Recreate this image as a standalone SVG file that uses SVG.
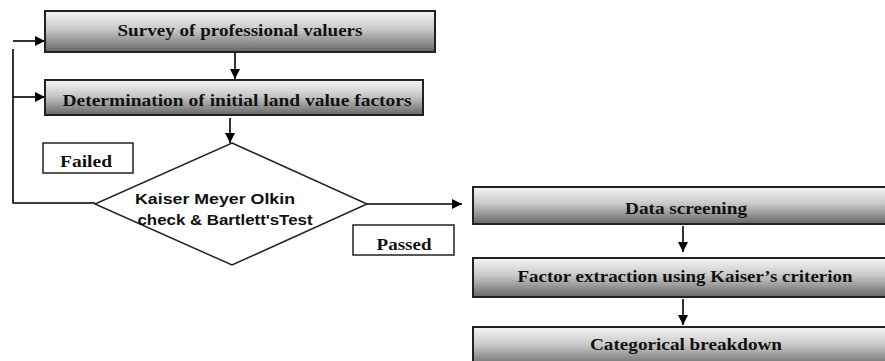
<svg xmlns="http://www.w3.org/2000/svg" width="885" height="361" viewBox="0 0 885 361">
<defs>
<linearGradient id="g" x1="0" y1="0" x2="0" y2="1">
<stop offset="0" stop-color="#f6f6f6"/>
<stop offset="0.45" stop-color="#c8c8c8"/>
<stop offset="1" stop-color="#666"/>
</linearGradient>
<marker id="ah" viewBox="0 0 10 10" refX="10" refY="5" markerWidth="10" markerHeight="10" markerUnits="userSpaceOnUse" orient="auto">
<path d="M0,0 L10,5 L0,10 z" fill="#000"/>
</marker>
</defs>
<style>
.box{fill:url(#g);stroke:#222;stroke-width:2}
.lbl{fill:#fff;stroke:#222;stroke-width:1.5}
.t{font-family:"Liberation Serif","Times New Roman",serif;font-weight:bold;font-size:16.5px;fill:#111;text-anchor:middle}
.s{font-family:"Liberation Sans",Arial,sans-serif;font-weight:bold;font-size:15.5px;fill:#111;text-anchor:middle}
.c{fill:none;stroke:#000;stroke-width:1.6}
</style>
<rect width="885" height="361" fill="#fff"/>
<g id="connectors">
<line class="c" x1="13" y1="41" x2="45" y2="41" marker-end="url(#ah)"/>
<polyline class="c" points="13,49 13,203 95,203"/>
<line class="c" x1="13" y1="97" x2="45" y2="97" marker-end="url(#ah)"/>
<line class="c" x1="235" y1="52" x2="235" y2="79" marker-end="url(#ah)"/>
<line class="c" x1="230" y1="118" x2="230" y2="143" marker-end="url(#ah)"/>
<line class="c" x1="367" y1="204" x2="462" y2="204" marker-end="url(#ah)"/>
<line class="c" x1="683" y1="226" x2="683" y2="252" marker-end="url(#ah)"/>
<line class="c" x1="683" y1="299" x2="683" y2="325" marker-end="url(#ah)"/>
</g>
<g id="survey">
<rect class="box" x="45" y="11" width="390" height="41"/>
<text class="t" x="240" y="36" textLength="245" lengthAdjust="spacingAndGlyphs">Survey of professional valuers</text>
</g>
<g id="determination">
<rect class="box" x="45" y="80" width="378" height="35"/>
<text class="t" x="237" y="106" textLength="349" lengthAdjust="spacingAndGlyphs">Determination of initial land value factors</text>
</g>
<g id="kmo">
<polygon points="232,143 367,204 232,265 95,204" fill="#fff" stroke="#222" stroke-width="1.5"/>
<text class="s" x="215" y="204" textLength="160" lengthAdjust="spacingAndGlyphs">Kaiser Meyer Olkin</text>
<text class="s" x="225" y="225" textLength="175" lengthAdjust="spacingAndGlyphs">check &amp; Bartlett'sTest</text>
</g>
<g id="failed">
<rect class="lbl" x="43" y="143" width="90" height="30"/>
<text class="t" x="86" y="167" textLength="52" lengthAdjust="spacingAndGlyphs">Failed</text>
</g>
<g id="passed">
<rect class="lbl" x="353" y="225" width="101" height="30"/>
<text class="t" x="404" y="250" textLength="55" lengthAdjust="spacingAndGlyphs">Passed</text>
</g>
<g id="screening">
<rect class="box" x="473" y="187" width="420" height="37"/>
<text class="t" x="686" y="214" textLength="122" lengthAdjust="spacingAndGlyphs">Data screening</text>
</g>
<g id="extraction">
<rect class="box" x="473" y="258" width="420" height="39"/>
<text class="t" x="685" y="282" textLength="335" lengthAdjust="spacingAndGlyphs">Factor extraction using Kaiser’s criterion</text>
</g>
<g id="breakdown">
<rect class="box" x="473" y="327" width="420" height="40"/>
<text class="t" x="686" y="350" textLength="192" lengthAdjust="spacingAndGlyphs">Categorical breakdown</text>
</g>
</svg>
